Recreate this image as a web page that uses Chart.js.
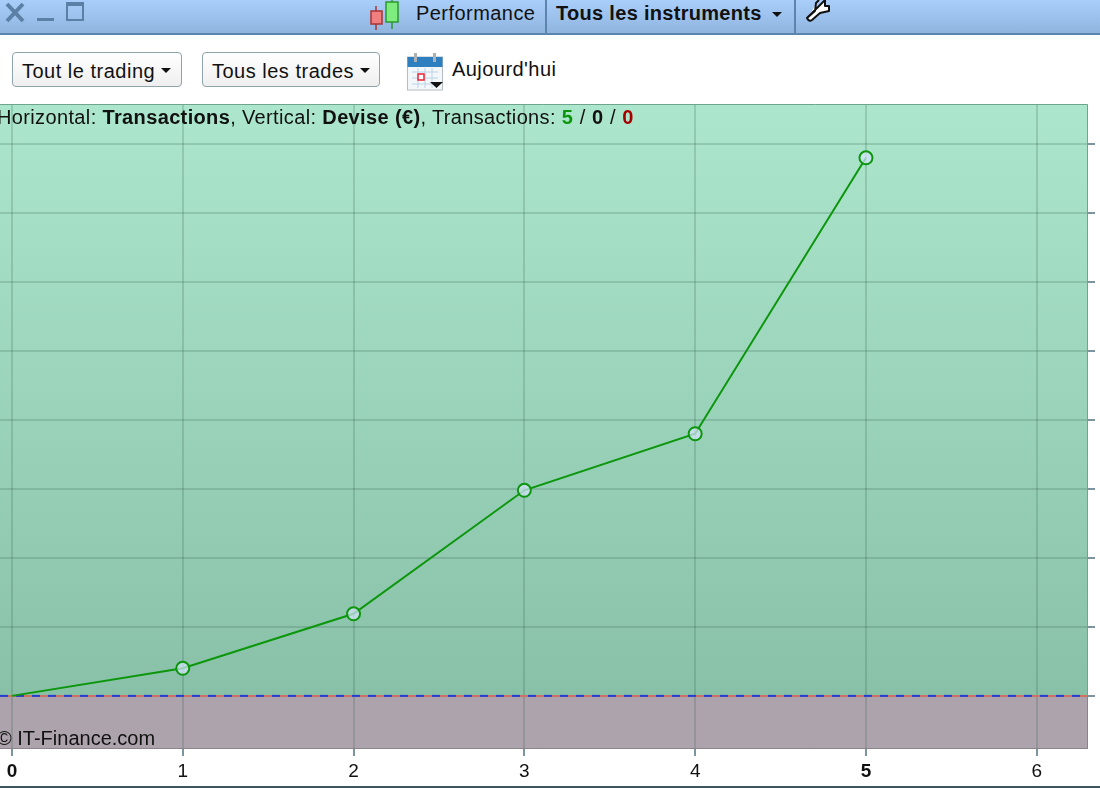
<!DOCTYPE html>
<html lang="fr">
<head>
<meta charset="utf-8">
<title>Performance</title>
<script src="https://cdn.jsdelivr.net/npm/chart.js@4/dist/chart.umd.min.js"></script>
<style>
  html, body { margin: 0; padding: 0; background: #fff; }
  body { width: 1100px; height: 788px; position: relative; overflow: hidden; font-family: "Liberation Sans", Arial, sans-serif; color: #111; }
  .topbar { position: absolute; left: 0; top: 0; width: 1100px; height: 33px; background: linear-gradient(#a9cefa, #8fb5df); border-bottom: 2px solid #5c84ad; }
  .sep { position: absolute; top: 0; width: 2px; height: 33px; background: #5c84ad; }
  .txt { position: absolute; white-space: nowrap; font-size: 20px; line-height: 24px; }
  .btn { position: absolute; top: 52px; height: 35px; box-sizing: border-box; border: 1px solid #8fa3ad; border-radius: 4px; background: linear-gradient(#ffffff, #efefef); font-size: 20px; line-height: 36px; padding-left: 9px; white-space: nowrap; letter-spacing: .5px; }
  .caret { position: absolute; width: 0; height: 0; border-left: 5px solid transparent; border-right: 5px solid transparent; border-top: 5px solid #111; }
  svg { position: absolute; overflow: visible; }
  #chart { position: absolute; left: 0; top: 100px; }
  .bottomline { position: absolute; left: 0; top: 786px; width: 1100px; height: 2px; background: #3f5661; }
</style>
</head>
<body>
<div class="topbar"></div>
<div class="sep" style="left:545px"></div>
<div class="sep" style="left:794px"></div>

<svg style="left:0;top:0" width="90" height="34">
  <path d="M7 4 L23 21 M23 4 L7 21" stroke="#5c7fa6" stroke-width="4"/>
  <rect x="37" y="18" width="17" height="3" fill="#5c7fa6"/>
  <rect x="67" y="3" width="16" height="17" fill="none" stroke="#5c7fa6" stroke-width="2"/>
  <rect x="67" y="3" width="16" height="3" fill="#5c7fa6"/>
</svg>
<svg style="left:368px;top:0" width="34" height="30">
  <path d="M8 6 V30" stroke="#a33" stroke-width="1.5"/>
  <rect x="3" y="11" width="11" height="13" fill="#f07f7f" stroke="#a33" stroke-width="1.5"/>
  <path d="M24 0 V29" stroke="#2a9a2a" stroke-width="1.5"/>
  <rect x="18" y="2" width="12" height="20" fill="#7fec7f" stroke="#2a9a2a" stroke-width="1.5"/>
</svg>
<div class="txt" style="left:416px;top:1px;letter-spacing:.45px">Performance</div>
<div class="txt" style="left:556px;top:1px;font-weight:bold;letter-spacing:.3px">Tous les instruments</div>
<div class="caret" style="left:772px;top:12px"></div>
<svg style="left:806px;top:0" width="24" height="24">
  <path d="M1 18 L9 11 L10 3 L13 0 M19 0 L19 6 L23 6 L23 11 L14 13 L6 20 Q3 22 1 18 Z" fill="#fff" stroke="#111" stroke-width="2" stroke-linejoin="round"/>
</svg>

<div class="btn" style="left:12px;width:170px">Tout le trading</div>
<div class="caret" style="left:161px;top:68px"></div>
<div class="btn" style="left:202px;width:178px">Tous les trades</div>
<div class="caret" style="left:360px;top:68px"></div>

<svg style="left:407px;top:53px" width="38" height="38">
  <rect x="0.5" y="4" width="35" height="33" fill="#f4f7fa" stroke="#b5bcc2"/>
  <rect x="0.5" y="4" width="35" height="10" fill="#2d7fc0"/>
  <rect x="7" y="0" width="3" height="9" fill="#aab2b8"/>
  <rect x="26" y="0" width="3" height="9" fill="#aab2b8"/>
  <path d="M5 19 H31 M5 25 H31 M5 31 H31 M11 15 V35 M18 15 V35 M25 15 V35" stroke="#b9d3e6" stroke-width="1"/>
  <rect x="11" y="21" width="6" height="6" fill="#fff" stroke="#e23" stroke-width="1.5"/>
  <path d="M23 29 H36 L29.5 35 Z" fill="#111"/>
</svg>
<div class="txt" style="left:452px;top:57px;letter-spacing:.45px">Aujourd'hui</div>

<canvas id="chart" width="1100" height="688"></canvas>

<div class="txt" style="left:-3px;top:105px;letter-spacing:.36px">Horizontal: <b>Transactions</b>, Vertical: <b>Devise (€)</b>, Transactions: <b style="color:#0c960c">5</b><span style="word-spacing:.5px"> / </span><b>0</b><span style="word-spacing:.5px"> / </span><b style="color:#a80000">0</b></div>
<div class="txt" style="left:-3px;top:726px">© IT-Finance.com</div>
<div class="bottomline"></div>

<script>
// Chart data (no y labels on the picture, so values are in grid steps)
const tradeNumbers = [0, 1, 2, 3, 4, 5];
const equityValues = [0, 0.4, 1.19, 2.98, 3.8, 7.8];
const xTicks = [0, 1, 2, 3, 4, 5, 6];
const yTicks = [0, 1, 2, 3, 4, 5, 6, 7, 8];
const boldTicks = [0, 5];
const zeroLineX = [-0.07, 6.3];
const zeroLineY = [0, 0];

const gridColor = 'rgba(50,90,75,0.2)';
const tickColor = '#7c959f';

// Green above zero, grey below, frame around the plot
const plotBackground = {
  id: 'plotBackground',
  beforeDraw(chart) {
    const { ctx, chartArea: a, scales } = chart;
    const zero = scales.y.getPixelForValue(0);
    const green = ctx.createLinearGradient(0, a.top, 0, zero);
    green.addColorStop(0, '#ace6cc');
    green.addColorStop(1, '#88c1a8');
    ctx.fillStyle = green;
    ctx.fillRect(a.left, a.top, a.width, zero - a.top);
    ctx.fillStyle = '#ada3ac';
    ctx.fillRect(a.left, zero, a.width, a.bottom - zero);
  },
  afterDraw(chart) {
    const { ctx, chartArea: a, scales } = chart;
    const zero = scales.y.getPixelForValue(0);
    ctx.save();
    ctx.lineWidth = 1;
    ctx.strokeStyle = '#6fa58c';
    ctx.beginPath();
    ctx.moveTo(a.left, a.top + 0.5);
    ctx.lineTo(a.right - 0.5, a.top + 0.5);
    ctx.lineTo(a.right - 0.5, zero);
    ctx.stroke();
    ctx.strokeStyle = '#8b858b';
    ctx.beginPath();
    ctx.moveTo(a.right - 0.5, zero);
    ctx.lineTo(a.right - 0.5, a.bottom - 0.5);
    ctx.lineTo(a.left, a.bottom - 0.5);
    ctx.stroke();
    ctx.restore();
  }
};

new Chart(document.getElementById('chart'), {
  type: 'line',
  data: {
    datasets: [
      {
        data: tradeNumbers.map((x, i) => ({ x, y: equityValues[i] })),
        borderColor: '#0c960c',
        borderWidth: 2,
        tension: 0,
        pointRadius: tradeNumbers.map(x => x === 0 ? 0 : 6.5),
        pointBorderWidth: 2,
        pointBorderColor: '#0c960c',
        pointBackgroundColor: 'rgba(215,230,255,0.7)'
      },
      {
        data: zeroLineX.map((x, i) => ({ x, y: zeroLineY[i] })),
        borderColor: '#1f3fd6',
        borderWidth: 2,
        borderDash: [8, 8],
        pointRadius: 0
      },
      {
        data: zeroLineX.map((x, i) => ({ x, y: zeroLineY[i] })),
        borderColor: '#d0705f',
        borderWidth: 2,
        pointRadius: 0
      }
    ]
  },
  plugins: [plotBackground],
  options: {
    responsive: false,
    animation: false,
    layout: { autoPadding: false, padding: { top: 4 } },
    plugins: { legend: { display: false }, tooltip: { enabled: false } },
    scales: {
      x: {
        type: 'linear',
        min: -0.07,
        max: 6.3,
        afterFit(scale) {
          scale.height = 39;
          scale.paddingLeft = 0;
          scale.paddingRight = 0;
        },
        afterBuildTicks(scale) { scale.ticks = xTicks.map(value => ({ value })); },
        grid: { color: gridColor, lineWidth: 2, tickColor, tickLength: 7 },
        border: { display: false },
        ticks: {
          autoSkip: false,
          maxRotation: 0,
          padding: 4,
          color: '#111',
          font: ctx => ({
            family: '"Liberation Sans", Arial, sans-serif',
            size: 19,
            weight: boldTicks.includes(ctx.tick && ctx.tick.value) ? 'bold' : 'normal'
          })
        }
      },
      y: {
        type: 'linear',
        position: 'right',
        min: -0.77,
        max: 8.58,
        afterFit(scale) { scale.width = 12; },
        afterBuildTicks(scale) { scale.ticks = yTicks.map(value => ({ value })); },
        grid: { color: gridColor, lineWidth: 2, tickColor, tickLength: 7 },
        border: { display: false },
        ticks: { display: false, autoSkip: false }
      }
    }
  }
});
</script>
</body>
</html>
